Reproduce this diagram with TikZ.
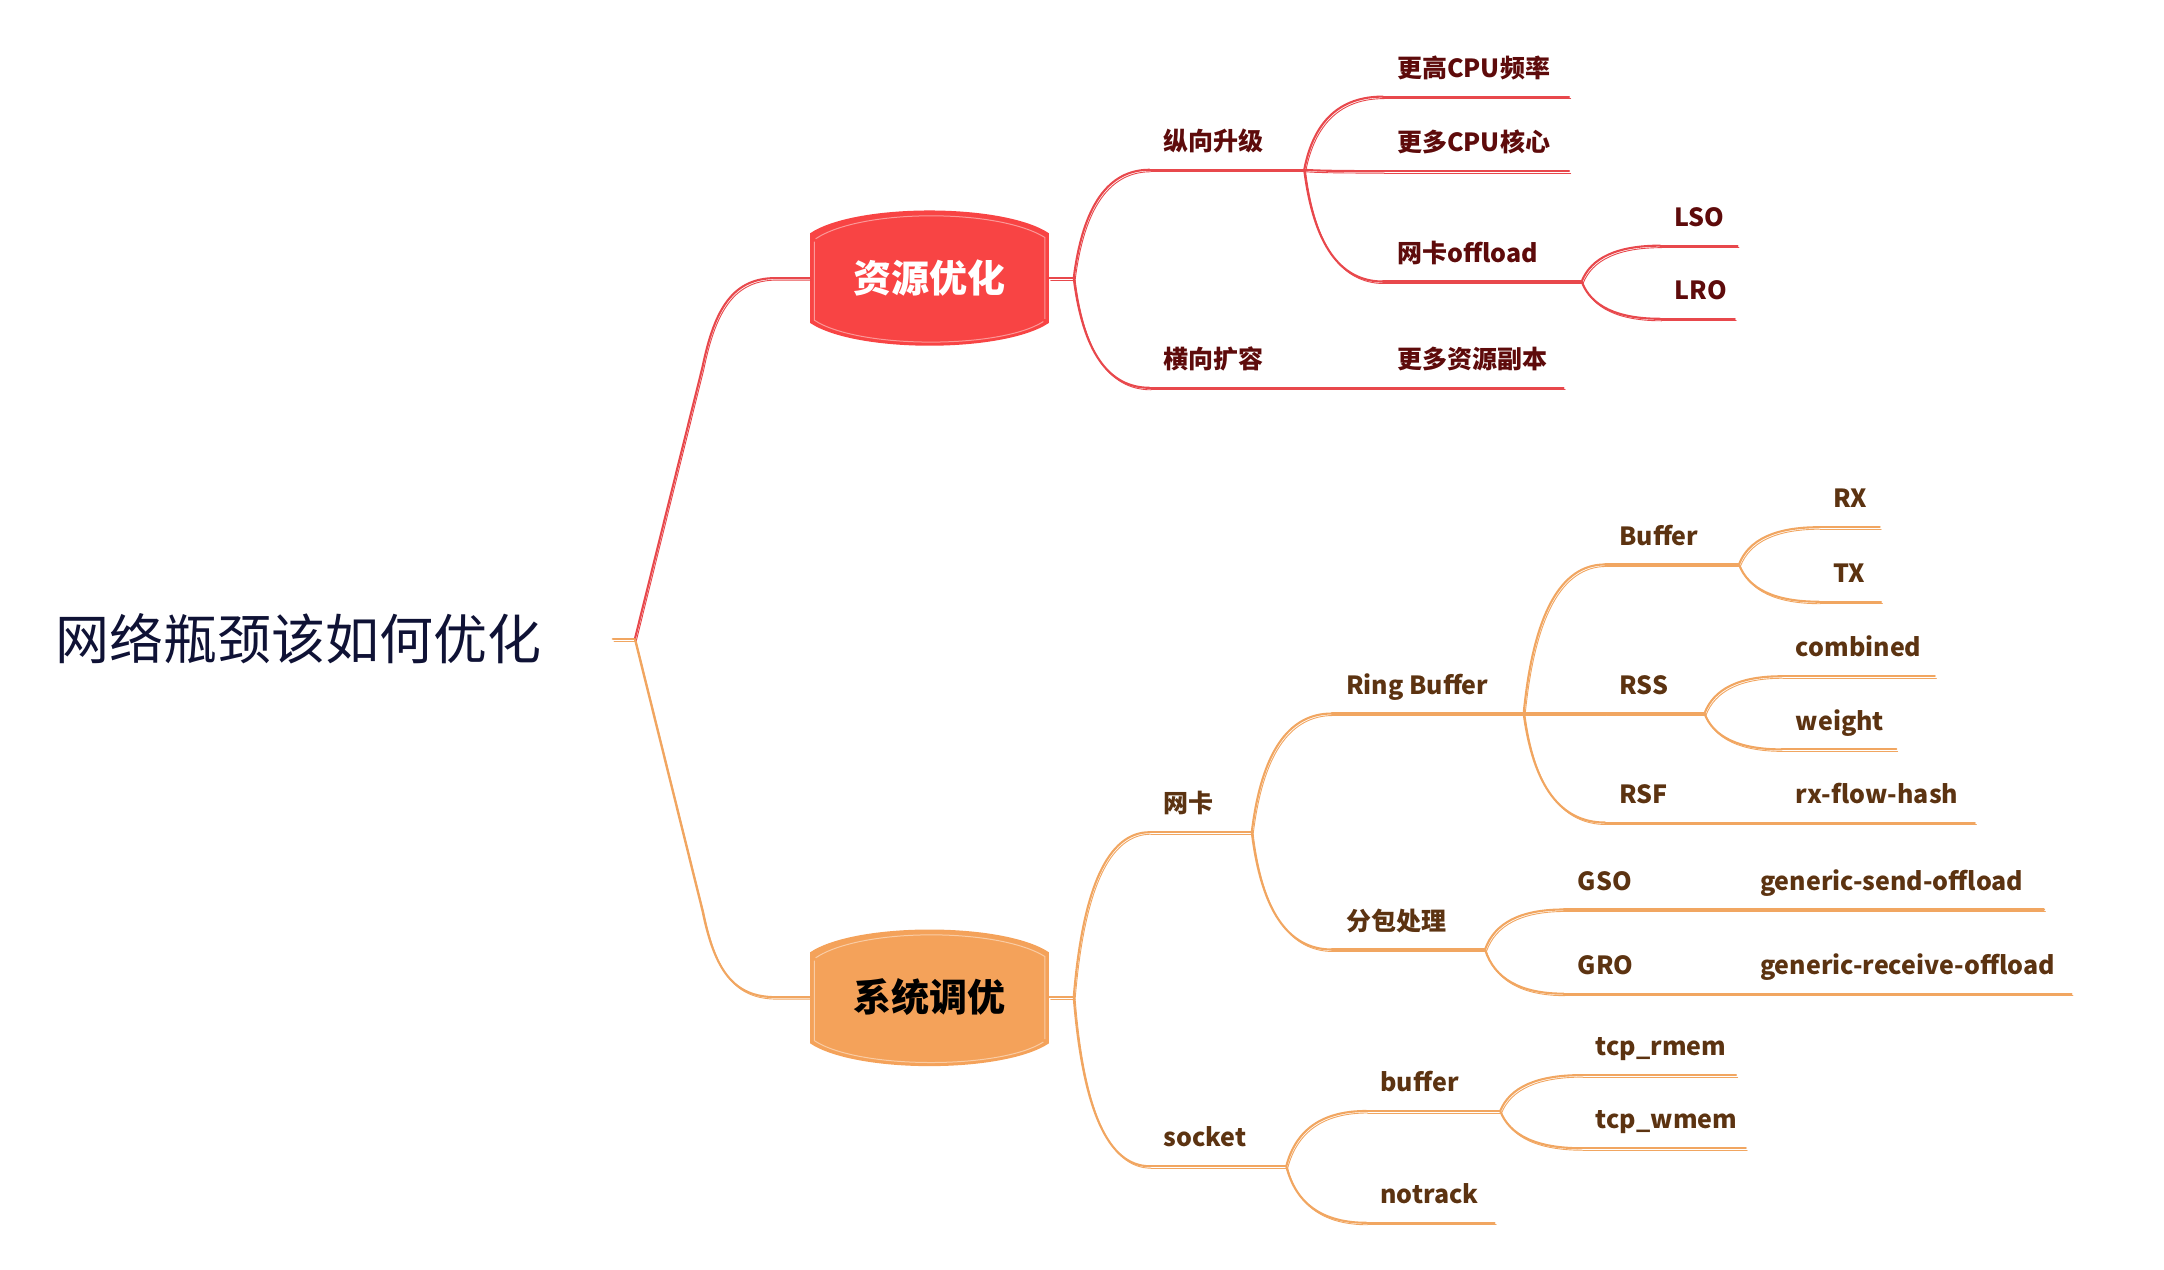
\documentclass[tikz,border=0pt]{standalone}
\usepackage{fontspec}
\setmainfont{Noto Sans CJK SC}
\usetikzlibrary{calc}
\definecolor{redf}{HTML}{F84444}
\definecolor{redl}{HTML}{E8484C}
\definecolor{redt}{HTML}{5E0B0B}
\definecolor{orgf}{HTML}{F4A25A}
\definecolor{orgl}{HTML}{F1A661}
\definecolor{orgt}{HTML}{5C3311}
\definecolor{roott}{HTML}{0F1235}
\newcommand\mmleaf[6]{%
  \coordinate (#1-l) at (#2,#4);
  \coordinate (#1-r) at (#3,#4);
  \draw[#5line] (#1-l) -- (#1-r);
  \node[#5text, anchor=base west] (#1) at ({#2+10},{#4-14}) {#6};
}
\newcommand\mmlink[3]{%
  \draw[#1line] let \p1=(#2), \p2=(#3) in (\p1) .. controls ({\x1+0.12*(\x2-\x1)},{\y1+0.667*(\y2-\y1)}) and ({\x2-0.547*(\x2-\x1)},{\y2}) .. (\p2);
}
\tikzset{
  rline/.style={draw=redl, line width=1.05pt, line cap=round, line join=round,
    postaction={draw=redl, line width=0.45pt, transform canvas={shift={(0.7pt,-1.0pt)}}}},
  oline/.style={draw=orgl, line width=1.05pt, line cap=round, line join=round,
    postaction={draw=orgl, line width=0.45pt, transform canvas={shift={(0.7pt,-1.0pt)}}}},
  rtext/.style={text=redt, inner sep=0pt, font=\fontsize{12.5}{14}\selectfont\bfseries},
  otext/.style={text=orgt, inner sep=0pt, font=\fontsize{12.5}{14}\selectfont\bfseries},
  mainnode/.style={inner sep=0pt, minimum width=119.4pt, minimum height=44.8pt,
    font=\fontsize{19}{22}\selectfont\bfseries},
}
\begin{document}
\begin{tikzpicture}[x=0.69pt,y=-0.69pt]
\useasboundingbox (0,0) rectangle (1568,920);
% root
\node[anchor=west, inner sep=0pt, text=roott, font=\fontsize{27}{30}\selectfont] (root) at (40,463) {网络瓶颈该如何优化};
\coordinate (r0) at (444,463);
\coordinate (rj) at (460,463);
% main node shapes
\fill[redf] (587,169) .. controls (620,147) and (727,147) .. (760,169) -- (760,234) .. controls (727,256) and (620,256) .. (587,234) -- cycle;
\draw[redf!55!white, line width=0.5pt] (591,173) .. controls (624,151) and (723,151) .. (757,172) -- (757,231);
\draw[redf!55!white, line width=0.5pt] (590,175) -- (590,232) .. controls (622,253) and (725,253) .. (756,233);
\fill[orgf] (587,690) .. controls (620,668) and (727,668) .. (760,690) -- (760,756) .. controls (727,778) and (620,778) .. (587,756) -- cycle;
\draw[orgf!55!white, line width=0.5pt] (591,694) .. controls (624,672) and (723,672) .. (757,693) -- (757,753);
\draw[orgf!55!white, line width=0.5pt] (590,696) -- (590,754) .. controls (622,775) and (725,775) .. (756,755);
\node[mainnode, text=white] (res) at (673.5,201.5) {资源优化};
\node[mainnode, text=black] (sys) at (673.5,722.5) {系统调优};
\coordinate (j0) at (778,201.5);
\coordinate (j1) at (778,722.5);
% red leaves
\mmleaf{zx}{833}{945}{123}{r}{纵向升级}
\mmleaf{hx}{833}{927}{281}{r}{横向扩容}
\mmleaf{gg}{1002}{1137}{70}{r}{更高CPU频率}
\mmleaf{gd}{1002}{1137}{124}{r}{更多CPU核心}
\mmleaf{wk}{1002}{1146}{204}{r}{网卡offload}
\mmleaf{lso}{1203}{1259}{178}{r}{LSO}
\mmleaf{lro}{1203}{1257}{231}{r}{LRO}
\mmleaf{gdz}{1002}{1133}{281}{r}{更多资源副本}
% orange leaves
\mmleaf{wk2}{833}{907}{603}{o}{网卡}
\mmleaf{sock}{833}{932}{845}{o}{socket}
\mmleaf{rb}{965}{1104}{517}{o}{Ring Buffer}
\mmleaf{fb}{965}{1076}{688}{o}{分包处理}
\mmleaf{buf}{1163}{1260}{409}{o}{Buffer}
\mmleaf{rss}{1163}{1235}{517}{o}{RSS}
\mmleaf{rsf}{1163}{1212}{596}{o}{RSF}
\mmleaf{rx}{1318}{1362}{382}{o}{RX}
\mmleaf{tx}{1318}{1363}{436}{o}{TX}
\mmleaf{comb}{1291}{1402}{490}{o}{combined}
\mmleaf{wt}{1291}{1374}{543}{o}{weight}
\mmleaf{rfh}{1291}{1431}{596}{o}{rx-flow-hash}
\mmleaf{gso}{1133}{1190}{659}{o}{GSO}
\mmleaf{gro}{1133}{1190}{720}{o}{GRO}
\mmleaf{gsoff}{1265}{1481}{659}{o}{generic-send-offload}
\mmleaf{groff}{1265}{1501}{720}{o}{generic-receive-offload}
\mmleaf{bufs}{990}{1087}{805}{o}{buffer}
\mmleaf{ntr}{990}{1083}{886}{o}{notrack}
\mmleaf{rmem}{1146}{1258}{779}{o}{tcp\_rmem}
\mmleaf{wmem}{1146}{1265}{832}{o}{tcp\_wmem}
% root connectors
\draw[oline] (r0) -- (rj);
\draw[rline] (rj) -- (509,266) .. controls (518,222) and (532,201.5) .. (562,201.5) -- (res.west);
\draw[oline] (rj) -- (509,660) .. controls (518,704) and (532,722.5) .. (562,722.5) -- (sys.west);
% red links
\draw[rline] (res.east) -- (j0);
\mmlink{r}{j0}{zx-l}
\mmlink{r}{j0}{hx-l}
\mmlink{r}{zx-r}{gg-l}
\mmlink{r}{zx-r}{gd-l}
\mmlink{r}{zx-r}{wk-l}
\mmlink{r}{wk-r}{lso-l}
\mmlink{r}{wk-r}{lro-l}
\mmlink{r}{hx-r}{gdz-l}
% orange links
\draw[oline] (sys.east) -- (j1);
\mmlink{o}{j1}{wk2-l}
\mmlink{o}{j1}{sock-l}
\mmlink{o}{wk2-r}{rb-l}
\mmlink{o}{wk2-r}{fb-l}
\mmlink{o}{rb-r}{buf-l}
\mmlink{o}{rb-r}{rss-l}
\mmlink{o}{rb-r}{rsf-l}
\mmlink{o}{buf-r}{rx-l}
\mmlink{o}{buf-r}{tx-l}
\mmlink{o}{rss-r}{comb-l}
\mmlink{o}{rss-r}{wt-l}
\mmlink{o}{rsf-r}{rfh-l}
\mmlink{o}{fb-r}{gso-l}
\mmlink{o}{fb-r}{gro-l}
\mmlink{o}{gso-r}{gsoff-l}
\mmlink{o}{gro-r}{groff-l}
\mmlink{o}{sock-r}{bufs-l}
\mmlink{o}{sock-r}{ntr-l}
\mmlink{o}{bufs-r}{rmem-l}
\mmlink{o}{bufs-r}{wmem-l}
\end{tikzpicture}
\end{document}
